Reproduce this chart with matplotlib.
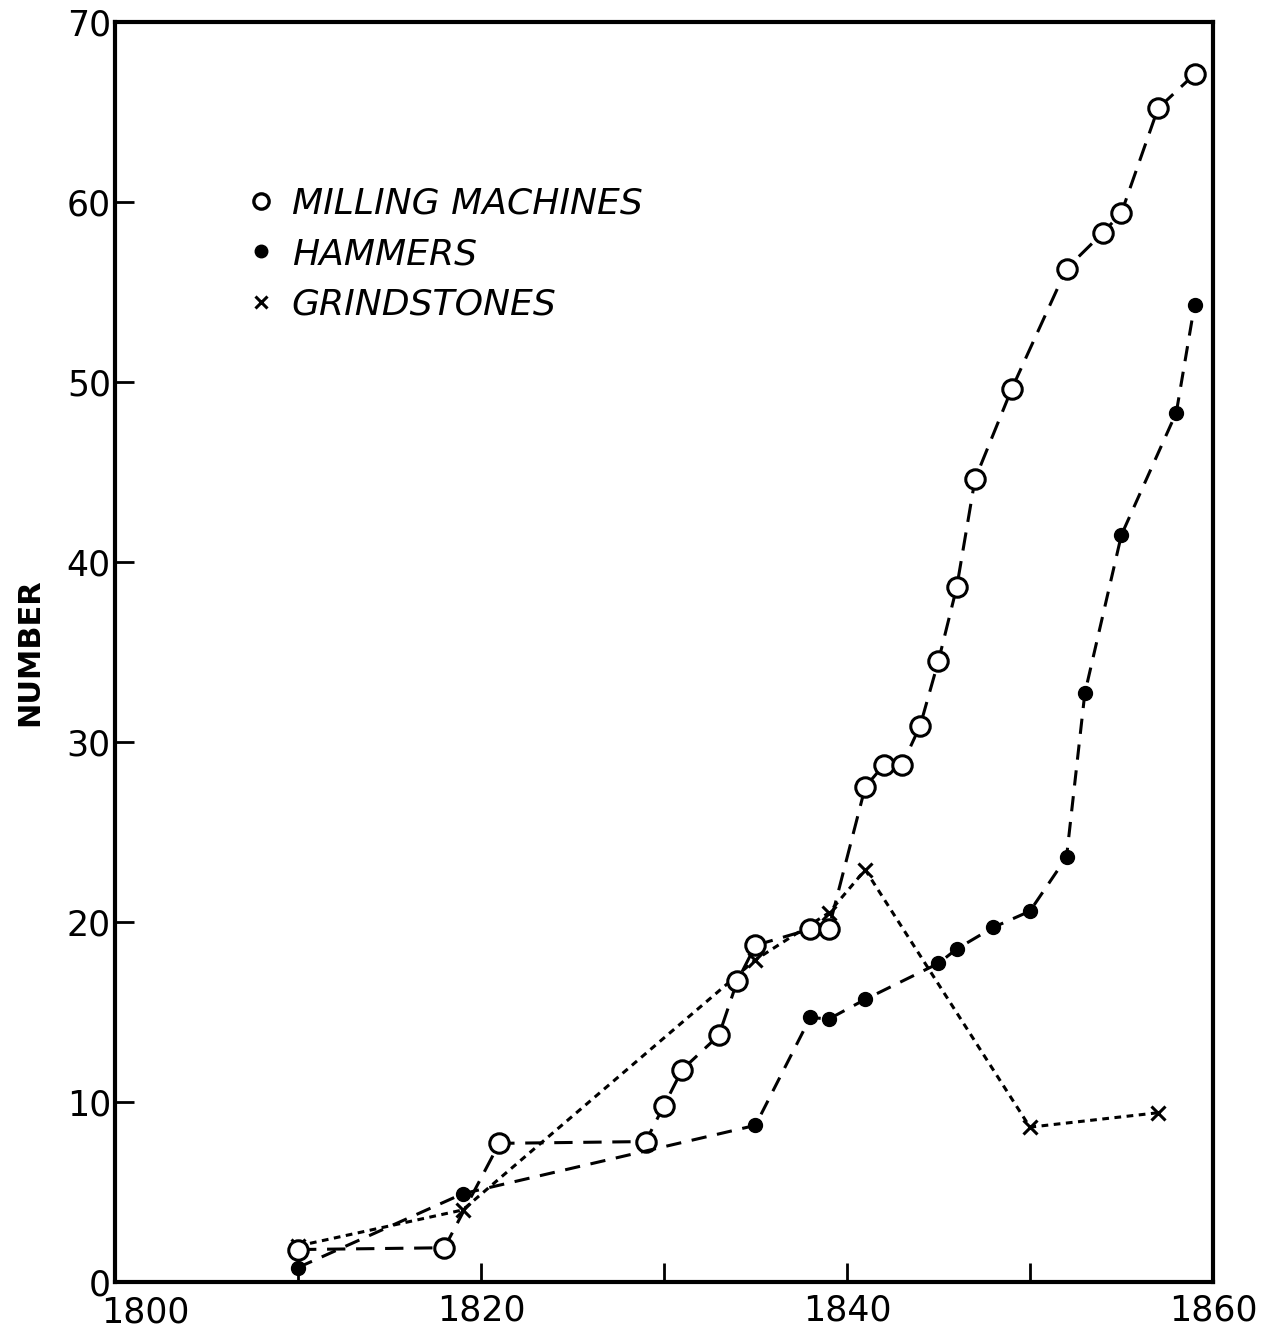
import matplotlib
matplotlib.use("Agg")
import matplotlib.pyplot as plt
import matplotlib.transforms as mtransforms
from matplotlib.lines import Line2D

plt.rcParams["font.family"] = ["DejaVu Sans"]

# Milling machines (open circles)
mill_years = [1810, 1818, 1821, 1829, 1830, 1831, 1833, 1834, 1835, 1838, 1839,
              1841, 1842, 1843, 1844, 1845, 1846, 1847, 1849, 1852, 1854, 1855, 1857, 1859]
mill_vals = [1.8, 1.9, 7.7, 7.8, 9.8, 11.8, 13.7, 16.7, 18.7, 19.6, 19.6,
             27.5, 28.7, 28.7, 30.9, 34.5, 38.6, 44.6, 49.6, 56.3, 58.3, 59.4, 65.2, 67.1]

# Hammers (filled dots)
hammer_years = [1810, 1819, 1835, 1838, 1839, 1841, 1845, 1846, 1848, 1850,
                1852, 1853, 1855, 1858, 1859]
hammer_vals = [0.8, 4.9, 8.7, 14.7, 14.6, 15.7, 17.7, 18.5, 19.7, 20.6,
               23.6, 32.7, 41.5, 48.3, 54.3]

# Grindstones (x)
grind_years = [1810, 1819, 1835, 1839, 1841, 1850, 1857]
grind_vals = [2.0, 4.0, 17.9, 20.5, 22.9, 8.6, 9.4]

legend_labels = ["MILLING MACHINES", "HAMMERS", "GRINDSTONES"]

fig = plt.figure(figsize=(12.67, 13.33), dpi=100)
ax = fig.add_axes([0.0908, 0.0383, 0.8665, 0.9452])

ax.plot(mill_years, mill_vals, color="black", lw=2.2, linestyle=(0, (6, 3.5)),
        marker="o", markersize=14, markerfacecolor="white", markeredgecolor="black",
        markeredgewidth=2.2, zorder=3)
ax.plot(hammer_years, hammer_vals, color="black", lw=2.2, linestyle=(0, (5, 3.5)),
        marker="o", markersize=10, markerfacecolor="black", markeredgecolor="black",
        zorder=3)
ax.plot(grind_years, grind_vals, color="black", lw=2.2, linestyle=(0, (2.2, 1.8)),
        marker="x", markersize=10, markeredgewidth=2.2, zorder=2)

ax.set_xlim(1800, 1860)
ax.set_ylim(0, 70)
ax.set_xticks([1800, 1820, 1840, 1860])
ax.set_xticks([1810, 1830, 1850], minor=True)
ax.set_yticks(range(0, 71, 10))
ax.tick_params(axis="both", which="both", direction="in", length=14, width=2,
               labelsize=25, pad=8)
ax.tick_params(axis="y", pad=3)
for s in ax.spines.values():
    s.set_linewidth(3)

# the 1800 label sits a bit right of its tick, clear of the y "0"
lab0 = ax.get_xticklabels()[0]
lab0.set_transform(lab0.get_transform() +
                   mtransforms.ScaledTranslation(0.30, -0.02, fig.dpi_scale_trans))

ax.set_ylabel("NUMBER", fontsize=22, fontweight="bold", labelpad=16)

handles = [
    Line2D([], [], linestyle="none", marker="o", markersize=11, markerfacecolor="white",
           markeredgecolor="black", markeredgewidth=2.4),
    Line2D([], [], linestyle="none", marker="o", markersize=9, markerfacecolor="black",
           markeredgecolor="black"),
    Line2D([], [], linestyle="none", marker="x", markersize=9, markeredgewidth=2.2,
           color="black"),
]
ax.legend(handles, legend_labels, loc="upper left", bbox_to_anchor=(0.087, 0.895),
          frameon=False, handlelength=1.0, handletextpad=0.35, labelspacing=0.45,
          prop={"size": 26, "style": "italic"})

fig.savefig("out.png", dpi=100)
